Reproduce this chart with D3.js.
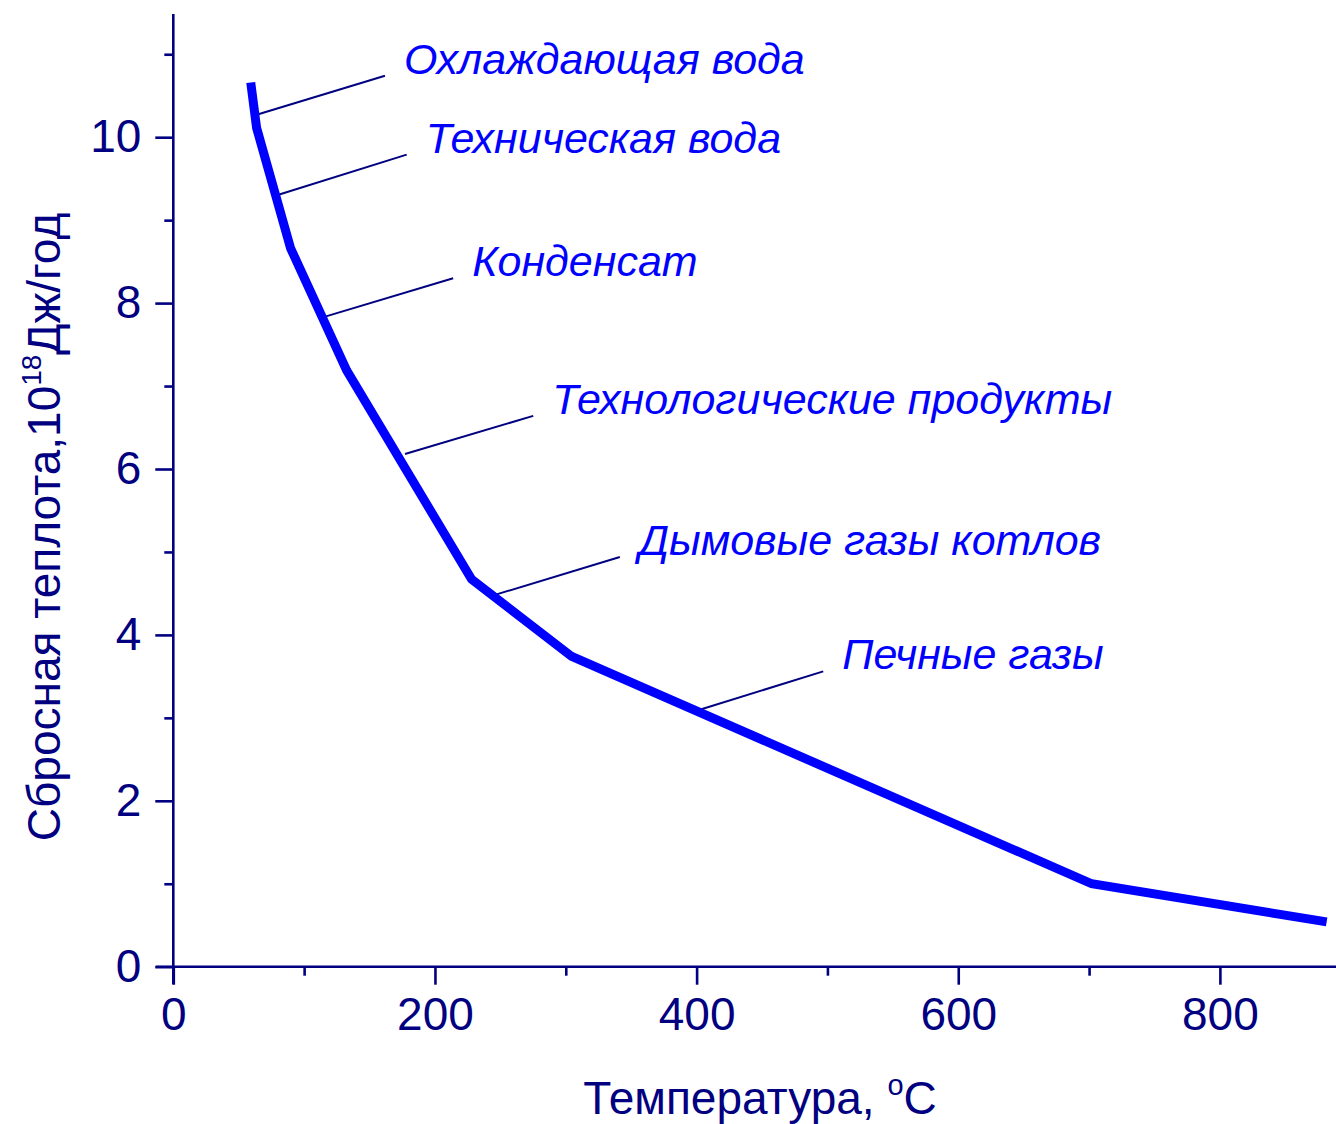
<!DOCTYPE html>
<html>
<head>
<meta charset="utf-8">
<script src="https://cdn.jsdelivr.net/npm/d3@7"></script>
<style>
  body { margin: 0; background: #fff; }
  svg { display: block; font-family: "Liberation Sans", Arial, sans-serif; }
</style>
</head>
<body>
<div id="chart"></div>
<script>
// temperature, C  /  waste heat, 10^18 J/yr
const temps = [59.2, 63.7, 89.7, 132.5, 228, 304.5, 702, 881.6];
const heat  = [10.66, 10.11, 8.66, 7.19, 4.67, 3.74, 1.0, 0.54];

const labels = [
  "Охлаждающая вода",
  "Техническая вода",
  "Конденсат",
  "Технологические продукты",
  "Дымовые газы котлов",
  "Печные газы"
];
// leader line: point on the curve -> end near the label (data units)
const leadFromT = [63.7, 81.0, 116.7, 177.1, 243.3, 398.7];
const leadFromQ = [10.27, 9.31, 7.84, 6.18, 4.47, 3.08];
const leadToT   = [161.8, 178.4, 213.9, 275.1, 341.3, 496.8];
const leadToQ   = [10.74, 9.79, 8.30, 6.64, 4.94, 3.56];

const xMajor = [0, 200, 400, 600, 800];
const xMinor = [100, 300, 500, 700];
const yMajor = [0, 2, 4, 6, 8, 10];
const yMinor = [1, 3, 5, 7, 9, 11];

const W = 1336, H = 1124;
const navy = "#000080", blue = "#0000ff";

const x = d3.scaleLinear().domain([0, 800]).range([173.3, 1219.9]);
const y = d3.scaleLinear().domain([0, 10]).range([966.7, 137.2]);
const yTop = y.invert(14);

const svg = d3.select("#chart").append("svg")
  .attr("width", W).attr("height", H);

// axes
function styleAxis(g) {
  g.selectAll("path, line").attr("stroke", navy).attr("stroke-width", 2.6);
  g.selectAll("text").attr("fill", navy).attr("font-size", 46);
}

const xAxisG = svg.append("g").attr("transform", `translate(0,${y(0)})`);
xAxisG.append("g")
  .call(d3.axisBottom(x).tickValues(xMinor).tickSize(9).tickFormat("").tickSizeOuter(0))
  .call(g => g.select(".domain").remove())
  .call(styleAxis);
xAxisG.append("g")
  .call(d3.axisBottom(x).tickValues(xMajor).tickSize(18).tickPadding(13).tickSizeOuter(0))
  .call(g => g.select(".domain").remove())
  .call(styleAxis);
xAxisG.append("line")
  .attr("x1", x(0) - 17.5).attr("x2", W)
  .attr("stroke", navy).attr("stroke-width", 2.6);

const yAxisG = svg.append("g").attr("transform", `translate(${x(0)},0)`);
yAxisG.append("g")
  .call(d3.axisLeft(y).tickValues(yMinor).tickSize(9).tickFormat(""))
  .call(g => g.select(".domain").remove())
  .call(styleAxis);
yAxisG.append("g")
  .call(d3.axisLeft(y).tickValues(yMajor).tickSize(18).tickPadding(14))
  .call(g => g.select(".domain").remove())
  .call(styleAxis);
yAxisG.append("line")
  .attr("y1", y(yTop)).attr("y2", y(0) + 17.5)
  .attr("stroke", navy).attr("stroke-width", 2.6);

// axis titles
const xt = svg.append("text")
  .attr("x", 760).attr("y", 1114)
  .attr("text-anchor", "middle")
  .attr("fill", navy).attr("font-size", 46);
xt.append("tspan").text("Температура, ");
xt.append("tspan").attr("font-size", 29).attr("dy", -19).text("o");
xt.append("tspan").attr("dy", 19).text("C");

const yt = svg.append("text")
  .attr("transform", "translate(60,527) rotate(-90)")
  .attr("text-anchor", "middle")
  .attr("fill", navy).attr("font-size", 46);
yt.append("tspan").text("Сбросная теплота,10");
yt.append("tspan").attr("font-size", 28).attr("dy", -19).text("18");
yt.append("tspan").attr("dy", 19).text("Дж/год");

// leader lines
svg.append("g").selectAll("line")
  .data(labels)
  .join("line")
  .attr("x1", (d, i) => x(leadFromT[i]))
  .attr("y1", (d, i) => y(leadFromQ[i]))
  .attr("x2", (d, i) => x(leadToT[i]))
  .attr("y2", (d, i) => y(leadToQ[i]))
  .attr("stroke", navy).attr("stroke-width", 2);

// curve
const pts = temps.map((t, i) => [t, heat[i]]);
svg.append("path")
  .datum(pts)
  .attr("fill", "none")
  .attr("stroke", blue)
  .attr("stroke-width", 9)
  .attr("d", d3.line().x(d => x(d[0])).y(d => y(d[1])));

// labels
svg.append("g").selectAll("text")
  .data(labels)
  .join("text")
  .attr("x", (d, i) => x(leadToT[i]) + 19)
  .attr("y", (d, i) => y(leadToQ[i]) - 2)
  .attr("fill", blue)
  .attr("font-size", 43)
  .attr("font-style", "italic")
  .text(d => d);
</script>
</body>
</html>
